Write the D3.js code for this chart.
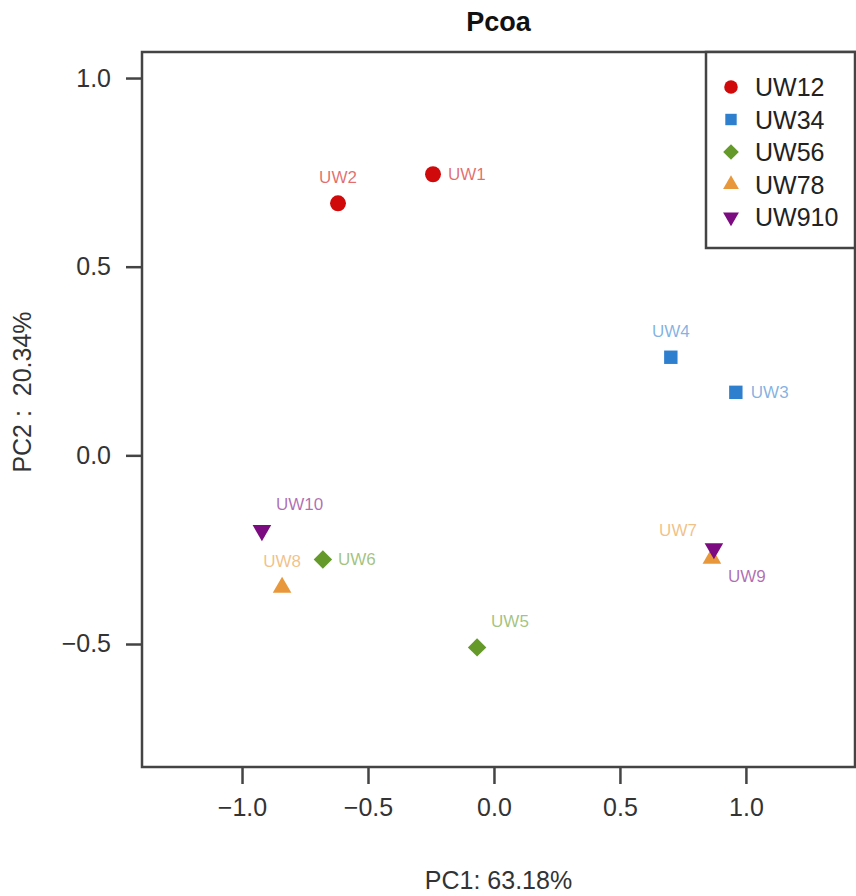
<!DOCTYPE html>
<html>
<head>
<meta charset="utf-8">
<script src="https://cdn.jsdelivr.net/npm/d3@7"></script>
<style>
  body { margin: 0; background: #fff; }
  text { font-family: "Liberation Sans", Arial, sans-serif; }
</style>
</head>
<body>
<div class="chart"></div>
<script>
var width = 856
var height = 896

// samples
const sampleNames = ["UW1", "UW2", "UW3", "UW4", "UW5", "UW6", "UW7", "UW8", "UW9", "UW10"];
const pc1 = [-0.242, -0.619, 0.960, 0.702, -0.067, -0.679, 0.865, -0.841, 0.873, -0.921];
const pc2 = [0.745, 0.668, 0.167, 0.260, -0.509, -0.276, -0.273, -0.350, -0.247, -0.199];
const sampleGroup = ["UW12", "UW12", "UW34", "UW34", "UW56", "UW56", "UW78", "UW78", "UW910", "UW910"];
// where the sample name sits relative to its point
const labelSide = ["r", "t", "r", "t", "tr", "r", "tl", "t", "br", "tr"];

// groups
const groups = ["UW12", "UW34", "UW56", "UW78", "UW910"];
const groupColors = ["#d00a0a", "#2f7fcf", "#659a2a", "#e8983a", "#7c0a80"];
const groupShapes = ["circle", "square", "diamond", "triUp", "triDown"];

const xTicks = [-1, -0.5, 0, 0.5, 1];
const yTicks = [-0.5, 0, 0.5, 1];

var plotL = 142, plotR = 855, plotT = 52, plotB = 767;
var axisCol = "#444";
var textCol = "#333";

var x = d3.scaleLinear().domain([-1.397, 1.433]).range([plotL, plotR]);
var y = d3.scaleLinear().domain([-0.826, 1.069]).range([plotB, plotT]);
var color = d3.scaleOrdinal().domain(groups).range(groupColors);
var shape = d3.scaleOrdinal().domain(groups).range(groupShapes);

var svg = d3.select(".chart").append("svg")
    .attr("width", width)
    .attr("height", height);

function symbolPath(s, k) {
  // k = scale factor for legend vs plot
  if (s == "circle") return d3.symbol(d3.symbolCircle, 200 * k * k)();
  if (s == "square") return d3.symbol(d3.symbolSquare, 180 * k * k)();
  if (s == "diamond") return d3.symbol(d3.symbolSquare, 170 * k * k)();
  return d3.symbol(d3.symbolTriangle, 150 * k * k)();
}
function symbolRotate(s) {
  if (s == "diamond") return 45;
  if (s == "triDown") return 180;
  return 0;
}

// axes
var xAxis = svg.append("g")
    .attr("transform", "translate(0," + plotB + ")")
    .call(d3.axisBottom(x).tickValues(xTicks).tickSize(17).tickPadding(14).tickFormat(d3.format(".1f")));
var yAxis = svg.append("g")
    .attr("transform", "translate(" + plotL + ",0)")
    .call(d3.axisLeft(y).tickValues(yTicks).tickSize(16).tickPadding(15).tickFormat(d3.format(".1f")));

[xAxis, yAxis].forEach(function(a) {
  a.select(".domain").remove();
  a.selectAll("line").attr("stroke", axisCol).attr("stroke-width", 2.5);
  a.selectAll("text").attr("fill", textCol).style("font-size", "25px")
    .style("font-family", "'Liberation Sans', Arial, sans-serif");
});

// plot box
svg.append("rect")
    .attr("x", plotL).attr("y", plotT)
    .attr("width", plotR - plotL).attr("height", plotB - plotT)
    .attr("fill", "none").attr("stroke", axisCol).attr("stroke-width", 2.5);

// title + axis titles
svg.append("text")
    .attr("x", (plotL + plotR) / 2).attr("y", 31)
    .attr("text-anchor", "middle")
    .style("font-size", "27px").style("font-weight", "bold")
    .attr("fill", "#111")
    .text("Pcoa");

svg.append("text")
    .attr("x", (plotL + plotR) / 2).attr("y", 889)
    .attr("text-anchor", "middle")
    .style("font-size", "25px").attr("fill", textCol)
    .text("PC1: 63.18%");

svg.append("text")
    .attr("transform", "translate(31,392) rotate(-90)")
    .attr("text-anchor", "middle")
    .style("font-size", "25px").style("white-space", "pre").attr("fill", textCol)
    .text("PC2 :  20.34%");

// points
svg.append("g").selectAll("path")
    .data(sampleNames)
    .enter()
    .append("path")
    .attr("d", function(d, i) { return symbolPath(shape(sampleGroup[i]), 1); })
    .attr("transform", function(d, i) {
      return "translate(" + x(pc1[i]) + "," + y(pc2[i]) + ") rotate(" + symbolRotate(shape(sampleGroup[i])) + ")";
    })
    .attr("fill", function(d, i) { return color(sampleGroup[i]); });

// sample labels
var offsets = {
  r:  { dx: 15,  dy: 6,   anchor: "start" },
  t:  { dx: 0,   dy: -20, anchor: "middle" },
  tr: { dx: 14,  dy: -20, anchor: "start" },
  tl: { dx: -15, dy: -22, anchor: "end" },
  br: { dx: 14,  dy: 33,  anchor: "start" }
};
svg.append("g").selectAll("text")
    .data(sampleNames)
    .enter()
    .append("text")
    .attr("x", function(d, i) { return x(pc1[i]) + offsets[labelSide[i]].dx; })
    .attr("y", function(d, i) { return y(pc2[i]) + offsets[labelSide[i]].dy; })
    .attr("text-anchor", function(d, i) { return offsets[labelSide[i]].anchor; })
    .style("font-size", "17px")
    .attr("fill", function(d, i) { return color(sampleGroup[i]); })
    .attr("fill-opacity", 0.6)
    .text(function(d) { return d; });

// legend
var legX = 706, legY = 52, legW = plotR - 706, legH = 196;
var legend = svg.append("g");
legend.append("rect")
    .attr("x", legX).attr("y", legY)
    .attr("width", legW).attr("height", legH)
    .attr("fill", "#fff").attr("stroke", axisCol).attr("stroke-width", 2.5);

var item = legend.selectAll(".item")
    .data(groups)
    .enter()
    .append("g")
    .attr("class", "item")
    .attr("transform", function(d, i) { return "translate(" + (legX + 25) + "," + (legY + 35 + i * 32.5) + ")"; });

item.append("path")
    .attr("d", function(d) { return symbolPath(shape(d), 0.85); })
    .attr("transform", function(d) { return "rotate(" + symbolRotate(shape(d)) + ")"; })
    .attr("fill", function(d) { return color(d); });

item.append("text")
    .attr("x", 24).attr("y", 9)
    .style("font-size", "25px")
    .attr("fill", "#222")
    .text(function(d) { return d; });
</script>
</body>
</html>
